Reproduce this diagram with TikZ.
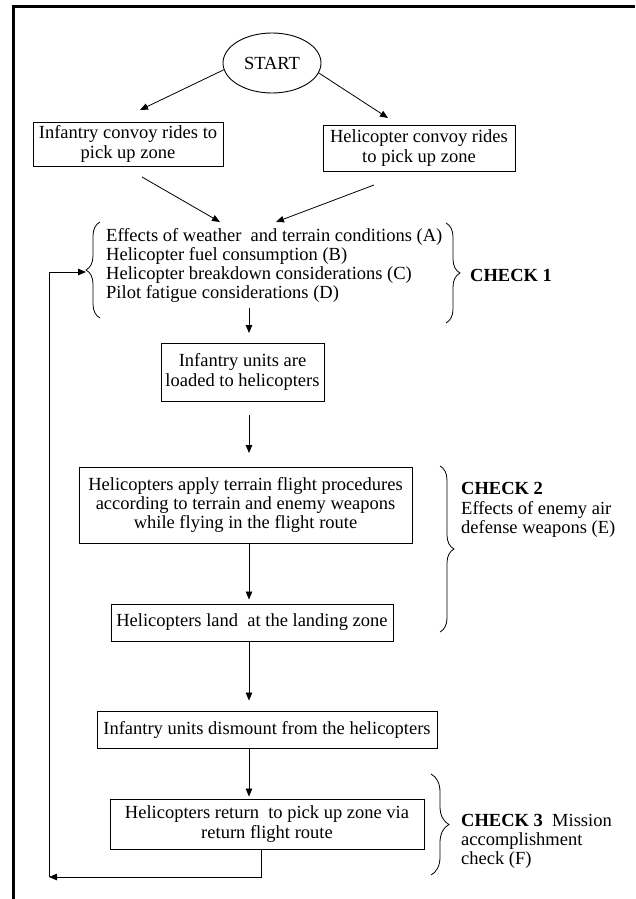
\documentclass[tikz,border=0pt]{standalone}
\usepackage{fontspec}
\setmainfont{Liberation Serif}
\usetikzlibrary{arrows.meta,decorations.pathreplacing,shapes.geometric,calc}
\begin{document}
\begin{tikzpicture}[x=1pt,y=-1pt,
  every node/.style={font=\fontsize{18.5}{19.3}\selectfont, text=black},
  box/.style={draw, line width=0.9pt, inner sep=0pt, align=center},
  arr/.style={line width=0.8pt, -{Triangle[length=8pt,width=6.5pt]}},
  brc/.style={decorate, decoration={brace, amplitude=#1}, line width=0.8pt},
  frame/.style={line width=2.2pt}]
\useasboundingbox (0,0) rectangle (635,899);
\draw[frame] (635,6.5) -- (13.5,6.5) -- (13.5,899);

% nodes
\node[draw, ellipse, line width=0.9pt, minimum width=98pt, minimum height=60pt, inner sep=0pt] (start) at (272,63) {START};
\node[box, minimum width=190pt, minimum height=44pt] (inf) at (128,144) {Infantry convoy rides to\\pick up zone};
\node[box, minimum width=192pt, minimum height=46pt] (heli) at (419,148) {Helicopter convoy rides\\to pick up zone};
\node[anchor=west, align=left, inner sep=0pt] (chk1) at (106,265.5) {Effects of weather\ \ and terrain conditions (A)\\Helicopter fuel consumption (B)\\Helicopter breakdown considerations (C)\\Pilot fatigue considerations (D)};
\node[anchor=west, inner sep=0pt, font=\fontsize{18.5}{19.3}\selectfont\bfseries] (chk1lbl) at (470,275) {CHECK 1};
\node[box, minimum width=163pt, minimum height=58pt] (load) at (242.5,372) {Infantry units are\\loaded to helicopters};
\node[box, minimum width=333pt, minimum height=76pt] (apply) at (245.5,505) {Helicopters apply terrain flight procedures\\according to terrain and enemy weapons\\while flying in the flight route};
\node[box, minimum width=282pt, minimum height=37pt] (land) at (252,622.5) {Helicopters land\ \ at the landing zone};
\node[anchor=west, align=left, inner sep=0pt] (chk2) at (461,510) {\textbf{CHECK 2}\\Effects of enemy air\\defense weapons (E)};
\node[box, minimum width=340pt, minimum height=37pt] (dism) at (267,729.5) {Infantry units dismount from the helicopters};
\node[box, minimum width=314pt, minimum height=50pt] (ret) at (267,824) {Helicopters return\ \ to pick up zone via\\return flight route};
\node[anchor=west, align=left, inner sep=0pt] (chk3) at (461,841.5) {\textbf{CHECK 3}\ \ Mission\\accomplishment\\check (F)};

% braces
\draw[brc=14pt] (100,318) -- (100,222);
\draw[brc=14pt] (446,223) -- (446,323);
\draw[brc=14pt] (440,466) -- (440,632);
\draw[brc=18pt] (431,774) -- (431,875);

% coordinates
\coordinate (X) at (249,0);
\coordinate (a1) at (140,110);
\coordinate (a2) at (388,118);
\coordinate (b1s) at (142,177);
\coordinate (b1e) at (220,222);
\coordinate (b2s) at (374,185);
\coordinate (b2e) at (276,222);
\coordinate (c1s) at (249,308);
\coordinate (c1e) at (249,333);
\coordinate (d1s) at (249,415);
\coordinate (d1e) at (249,453);
\coordinate (fb) at (49,877);
\coordinate (tip1) at (86,272);

% connectors
\draw[arr] (start.188) -- (a1);
\draw[arr] (start.-12) -- (a2);
\draw[arr] (b1s) -- (b1e);
\draw[arr] (b2s) -- (b2e);
\draw[arr] (c1s) -- (c1e);
\draw[arr] (d1s) -- (d1e);
\draw[arr, shorten >=4pt] (apply.south -| X) -- (X |- land.north);
\draw[arr, shorten >=10pt] (land.south -| X) -- (X |- dism.north);
\draw[arr, shorten >=2pt] (dism.south -| X) -- (X |- ret.north);
\draw[arr] ([xshift=-6pt]ret.south) |- (fb);
\draw[arr] (fb) |- (tip1);
\end{tikzpicture}
\end{document}
